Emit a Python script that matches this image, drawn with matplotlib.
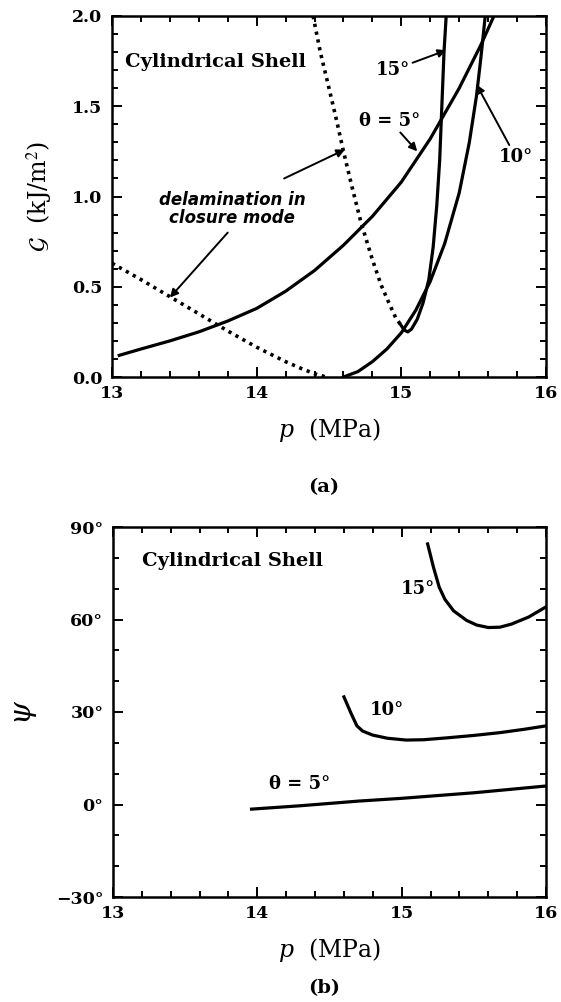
import numpy as np
import matplotlib
matplotlib.use("Agg")
import matplotlib.pyplot as plt
from matplotlib.ticker import MultipleLocator, FuncFormatter

plt.rcParams['font.family'] = ['DejaVu Serif']
plt.rcParams['mathtext.fontset'] = 'dejavuserif'

# ---- panel (a): energy release rate G vs p ----
p_5 = [13.05, 13.2, 13.4, 13.6, 13.8, 14.0, 14.2, 14.4, 14.6, 14.8,
       15.0, 15.2, 15.4, 15.55, 15.64]
G_5 = [0.12, 0.155, 0.20, 0.25, 0.31, 0.38, 0.475, 0.59, 0.73, 0.89,
       1.08, 1.32, 1.60, 1.84, 2.0]

p_10 = [14.6, 14.7, 14.8, 14.9, 15.0, 15.1, 15.2, 15.3, 15.4, 15.47,
        15.52, 15.55, 15.58]
G_10 = [0.0, 0.03, 0.085, 0.155, 0.245, 0.37, 0.53, 0.74, 1.02, 1.3,
        1.56, 1.77, 2.0]

p_15 = [15.31, 15.295, 15.28, 15.265, 15.245, 15.22, 15.19, 15.15, 15.11,
        15.07, 15.045, 15.02, 14.995]
G_15 = [2.0, 1.8, 1.5, 1.2, 0.95, 0.72, 0.54, 0.41, 0.32,
        0.265, 0.25, 0.26, 0.29]

# delamination in closure mode (dotted)
p_cl1 = [13.0, 13.2, 13.4, 13.6, 13.8, 14.0, 14.2, 14.3, 14.4, 14.48]
G_cl1 = [0.63, 0.54, 0.445, 0.35, 0.255, 0.165, 0.085, 0.05, 0.018, 0.0]
p_cl2 = [14.39, 14.44, 14.5, 14.55, 14.6, 14.66, 14.72, 14.8, 14.86, 14.92,
         14.96, 14.995]
G_cl2 = [2.0, 1.8, 1.6, 1.43, 1.25, 1.05, 0.86, 0.65, 0.51, 0.4,
         0.33, 0.29]

# ---- panel (b): phase angle psi vs p ----
p_psi5 = [13.96, 14.3, 14.7, 15.0, 15.5, 16.0]
psi_5 = [-1.5, -0.4, 1.1, 2.0, 3.8, 6.0]

p_psi10 = [14.6, 14.65, 14.69, 14.73, 14.8, 14.9, 15.03, 15.15, 15.31,
           15.5, 15.68, 15.85, 16.0]
psi_10 = [34.9, 29.5, 25.5, 23.8, 22.5, 21.5, 20.9, 21.0, 21.6,
          22.4, 23.3, 24.4, 25.5]

p_psi15 = [15.18, 15.22, 15.26, 15.3, 15.36, 15.45, 15.52, 15.6, 15.68,
           15.76, 15.88, 16.0]
psi_15 = [84.5, 77.0, 70.5, 66.5, 62.8, 59.7, 58.2, 57.4, 57.5,
          58.5, 60.8, 64.1]

W, H = 561, 1002
fig = plt.figure(figsize=(W / 100, H / 100), dpi=100)

def px_axes(x0, y0, x1, y1):
    return fig.add_axes([x0 / W, 1 - y1 / H, (x1 - x0) / W, (y1 - y0) / H])

ax1 = px_axes(112, 16, 546, 377)
ax2 = px_axes(113, 527, 546, 897)

lw = 2.3
fs_tick = 12.5
fs_txt = 13

def style_axes(ax):
    for s in ax.spines.values():
        s.set_linewidth(1.8)
    ax.tick_params(which='both', direction='in', top=True, right=True, width=1.4)
    ax.tick_params(which='major', length=7)
    ax.tick_params(which='minor', length=4)
    ax.tick_params(axis='x', pad=6)
    ax.tick_params(axis='y', pad=7)
    for lab in ax.get_xticklabels() + ax.get_yticklabels():
        lab.set_fontweight('bold')
        lab.set_fontsize(fs_tick)

# panel (a)
ax1.plot(p_5, G_5, color='k', lw=lw, solid_joinstyle='round')
ax1.plot(p_10, G_10, color='k', lw=lw, solid_joinstyle='round')
ax1.plot(p_15, G_15, color='k', lw=lw, solid_joinstyle='round')
ax1.plot(p_cl1, G_cl1, color='k', lw=2.6, linestyle=(0, (0.9, 1.3)))
ax1.plot(p_cl2, G_cl2, color='k', lw=2.6, linestyle=(0, (0.9, 1.3)))

ax1.set_xlim(13, 16)
ax1.set_ylim(0, 2.0)
ax1.xaxis.set_major_locator(MultipleLocator(1))
ax1.xaxis.set_minor_locator(MultipleLocator(0.2))
ax1.yaxis.set_major_locator(MultipleLocator(0.5))
ax1.yaxis.set_minor_locator(MultipleLocator(0.1))
ax1.yaxis.set_major_formatter(FuncFormatter(lambda v, pos: f"{v:.1f}"))
style_axes(ax1)

ax1.set_xlabel(r"$p$  (MPa)", fontsize=17, labelpad=10)
ax1.set_ylabel(r"$\mathcal{G}$  (kJ/m$^2$)", fontsize=17, labelpad=12,
               math_fontfamily='stix')

ax1.text(13.09, 1.745, "Cylindrical Shell", fontsize=14, fontweight='bold',
         ha='left', va='center')

arrow = dict(arrowstyle='-|>', color='k', lw=1.4, mutation_scale=12, shrinkA=0, shrinkB=0)
ax1.annotate("15°", xy=(15.31, 1.81), xytext=(14.94, 1.70), fontsize=fs_txt,
             fontweight='bold', ha='center', va='center', arrowprops=arrow)
ax1.annotate("θ = 5°", xy=(15.11, 1.25), xytext=(14.92, 1.42), fontsize=fs_txt,
             fontweight='bold', ha='center', va='center', arrowprops=arrow)
ax1.annotate("10°", xy=(15.52, 1.62), xytext=(15.79, 1.22), fontsize=fs_txt,
             fontweight='bold', ha='center', va='center', arrowprops=arrow)
ax1.text(13.83, 0.93, "delamination in\nclosure mode", family='DejaVu Sans',
         fontsize=12, fontweight='bold', fontstyle='italic', ha='center',
         va='center', linespacing=1.05)
ax1.annotate("", xy=(13.40, 0.44), xytext=(13.80, 0.80), arrowprops=arrow)
ax1.annotate("", xy=(14.61, 1.26), xytext=(14.19, 1.10), arrowprops=arrow)

fig.text(0.5 * (112 + 546) / W - 0.01, 1 - 487 / H, "(a)", fontsize=14,
         fontweight='bold', ha='center', va='center')

# panel (b)
ax2.plot(p_psi5, psi_5, color='k', lw=lw, solid_joinstyle='round')
ax2.plot(p_psi10, psi_10, color='k', lw=lw, solid_joinstyle='round')
ax2.plot(p_psi15, psi_15, color='k', lw=lw, solid_joinstyle='round')

ax2.set_xlim(13, 16)
ax2.set_ylim(-30, 90)
ax2.xaxis.set_major_locator(MultipleLocator(1))
ax2.xaxis.set_minor_locator(MultipleLocator(0.2))
ax2.yaxis.set_major_locator(MultipleLocator(30))
ax2.yaxis.set_minor_locator(MultipleLocator(10))
ax2.yaxis.set_major_formatter(FuncFormatter(lambda v, pos: f"{int(v)}°".replace('-', '\u2212')))
style_axes(ax2)

ax2.set_xlabel(r"$p$  (MPa)", fontsize=17, labelpad=10)
ax2.set_ylabel(r"$\psi$", fontsize=21, labelpad=12)

ax2.text(13.2, 79, "Cylindrical Shell", fontsize=14, fontweight='bold',
         ha='left', va='center')
ax2.text(15.11, 70, "15°", fontsize=fs_txt, fontweight='bold', ha='center', va='center')
ax2.text(14.9, 30.5, "10°", fontsize=fs_txt, fontweight='bold', ha='center', va='center')
ax2.text(14.29, 6.5, "θ = 5°", fontsize=fs_txt, fontweight='bold', ha='center', va='center')

fig.text(0.5 * (113 + 546) / W - 0.01, 1 - 988 / H, "(b)", fontsize=14,
         fontweight='bold', ha='center', va='center')

fig.savefig("out.png", dpi=100)
